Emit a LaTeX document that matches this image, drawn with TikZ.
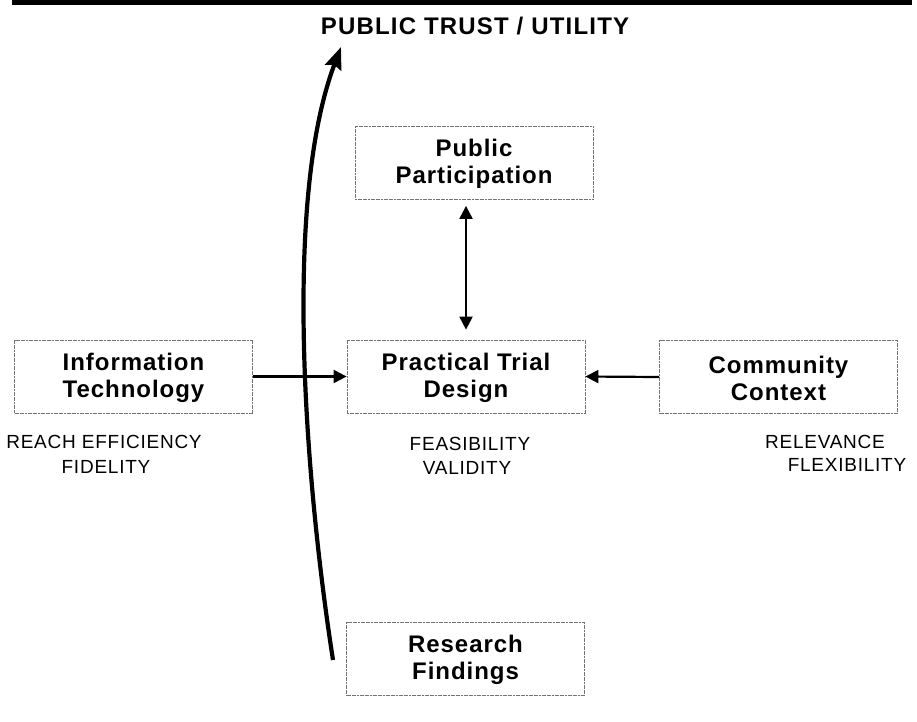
\documentclass[tikz,border=0pt]{standalone}
\usepackage{fontspec}
\setmainfont{Liberation Sans}
\usetikzlibrary{arrows.meta,calc}
\newfontfamily\boxfont[LetterSpace=4]{Liberation Sans}
\newfontfamily\titlefont[LetterSpace=5]{Liberation Sans}
\begin{document}
\begin{tikzpicture}[x=1pt,y=-1pt,
  box/.style={draw=black!55, line width=0.8pt, dash pattern=on 2pt off 0.6pt,
    minimum width=238pt, minimum height=73pt, inner sep=0pt},
  boxtext/.style={align=center, font=\boxfont\fontsize{24}{27}\selectfont\bfseries, inner sep=0pt},
  lbl/.style={font=\boxfont\fontsize{19}{25}\selectfont, inner sep=0pt, anchor=base},
  harrow/.style={line width=2.2pt, -{Triangle[length=13pt,width=13pt]}},
  darrow/.style={line width=2.2pt, {Triangle[length=13pt,width=13pt]}-{Triangle[length=13pt,width=13pt]}},
  bigarrow/.style={line width=4.2pt, -{Stealth[length=22pt,width=17pt,inset=3pt]}}]
\useasboundingbox (0,0) rectangle (917,721);
% top bar
\fill[black] (12,0) rectangle (912,5);
% title
\node[font=\titlefont\fontsize{24}{28}\selectfont\bfseries, anchor=base, inner sep=0pt] (title) at (475,34) {PUBLIC TRUST / UTILITY};
% boxes
\node[box] (pp) at (474,163) {};
\node[boxtext] (pptext) at (474,164) {Public\\Participation};
\node[box] (it) at (133.5,376.5) {};
\node[boxtext] (ittext) at (133.5,378) {Information\\Technology};
\node[box] (ptd) at (466,376.5) {};
\node[boxtext] (ptdtext) at (466,378) {Practical Trial\\Design};
\node[box] (cc) at (778.5,377) {};
\node[boxtext] (cctext) at (778.5,378) {Community\\Context};
\node[box] (rf) at (465.5,659) {};
\node[boxtext] (rftext) at (465.5,660) {Research\\Findings};
% labels
\node[lbl] (l1) at (104,448) {REACH EFFICIENCY};
\node[lbl] (l2) at (106,473) {FIDELITY};
\node[lbl] (l3) at (470,450) {FEASIBILITY};
\node[lbl] (l4) at (467,474) {VALIDITY};
\node[lbl] (l5) at (825,448) {RELEVANCE};
\node[lbl] (l6) at (847,471) {FLEXIBILITY};
% connectors
\draw[harrow] (it.east) -- (ptd.west);
\draw[harrow] (cc.west) -- (ptd.east);
\draw[darrow] ([yshift=-6pt]ptd.north |- pp.south) -- ([yshift=10pt]ptd.north);
% big curved arrow
\coordinate (cb) at (333,660);
\coordinate (ct) at (341,47);
\draw[bigarrow] (cb) .. controls (305,480) and (283,200) .. (ct);
\end{tikzpicture}
\end{document}
